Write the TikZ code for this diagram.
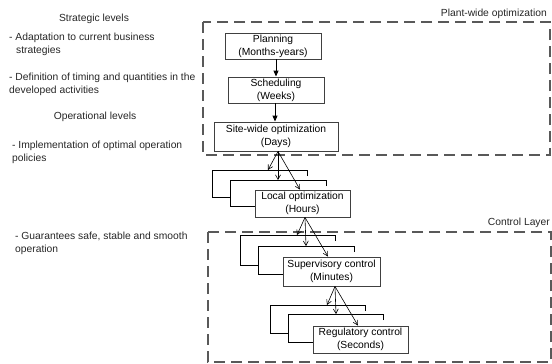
\documentclass[tikz,border=0pt]{standalone}
\usepackage{fontspec}
\setmainfont{Liberation Sans}
\usetikzlibrary{arrows.meta}
\begin{document}
\begin{tikzpicture}[x=1pt,y=-1pt,
  every node/.style={font=\fontsize{10.3}{12.8}\selectfont, inner sep=0pt},
  levelbox/.style={draw=black!75, line width=0.9pt, minimum width=#1, align=center},
  zone/.style={draw=black!65, line width=1.1pt, dash pattern=on 11pt off 6pt},
  backbox/.style={draw=black, line width=0.7pt},
  fan/.style={draw=black, line width=0.6pt, -{Straight Barb[length=4.5pt,width=5pt]}},
  mainarrow/.style={draw=black, line width=0.9pt, -{Triangle[length=6pt,width=5pt]}},
  lefttext/.style={anchor=west, align=left, text=black!85}]
\useasboundingbox (0,0) rectangle (552,364);
% zones
\draw[zone] (203,22) rectangle (550,155);
\draw[zone] (208,232) rectangle (551,362);
\node[anchor=east, text=black!85] (plantlbl) at (547,14) {Plant-wide optimization};
\node[anchor=east, text=black!85] (ctrllbl) at (550,223) {Control Layer};
% left text
\node[text=black!85] (strat) at (94,19) {Strategic levels};
\node[lefttext] (t1) at (9,44.5) {- Adaptation to current business\\\hspace*{7pt}strategies};
\node[lefttext] (t2) at (9,84) {- Definition of timing and quantities in the\\developed activities};
\node[text=black!85] (oper) at (95,117) {Operational levels};
\node[lefttext] (t3) at (12,152) {- Implementation of optimal operation\\policies};
\node[lefttext] (t4) at (15,243) {- Guarantees safe, stable and smooth\\operation};
% back boxes
\draw[backbox] (307,176) -- (307,170) -- (212,170) -- (212,197) -- (230,197);
\draw[backbox] (326,186) -- (326,180) -- (230,180) -- (230,206) -- (255,206);
\draw[backbox] (335,241) -- (335,235) -- (240,235) -- (240,265) -- (258,265);
\draw[backbox] (354,252) -- (354,246) -- (258,246) -- (258,274) -- (283,274);
\draw[backbox] (365,311) -- (365,305) -- (270,305) -- (270,333) -- (288,333);
\draw[backbox] (383,320) -- (383,314) -- (288,314) -- (288,342) -- (313,342);
\coordinate (Lb) at (268,170); \coordinate (Lm) at (278,180);
\coordinate (Sb) at (297,235); \coordinate (Sm) at (306,246);
\coordinate (Rb) at (327,305); \coordinate (Rm) at (336,314);
% main boxes
\node[levelbox=96pt, minimum height=26pt] (plan) at (273,46) {Planning\\(Months-years)};
\node[levelbox=96pt, minimum height=26pt] (sched) at (276,90) {Scheduling\\(Weeks)};
\node[levelbox=124pt, minimum height=29pt] (site) at (276,136.5) {Site-wide optimization\\(Days)};
\node[levelbox=95pt, minimum height=27pt, fill=white] (local) at (302.5,203.5) {Local optimization\\(Hours)};
\node[levelbox=97pt, minimum height=29pt, fill=white] (super) at (331.5,271.5) {Supervisory control\\(Minutes)};
\node[levelbox=95pt, minimum height=27pt, fill=white] (reg) at (360.5,339.5) {Regulatory control\\(Seconds)};
% arrows
\draw[mainarrow] (plan.south -| sched.north) -- (sched.north);
\draw[mainarrow] (sched.south -| 275,0) -- (site.north -| 275,0);
\coordinate (s1) at (site.south -| 278,0);
\draw[fan] (s1) -- (Lb);
\draw[fan] (s1) -- (Lm);
\draw[fan] (s1) -- (local.north -| 300,0);
\coordinate (s2) at (local.south -| 305,0);
\draw[fan] (s2) -- (Sb);
\draw[fan] (s2) -- (Sm);
\draw[fan] (s2) -- (super.north -| 328,0);
\coordinate (s3) at (super.south -| 335,0);
\draw[fan] (s3) -- (Rb);
\draw[fan] (s3) -- (Rm);
\draw[fan] (s3) -- (reg.north -| 358,0);
\end{tikzpicture}
\end{document}
